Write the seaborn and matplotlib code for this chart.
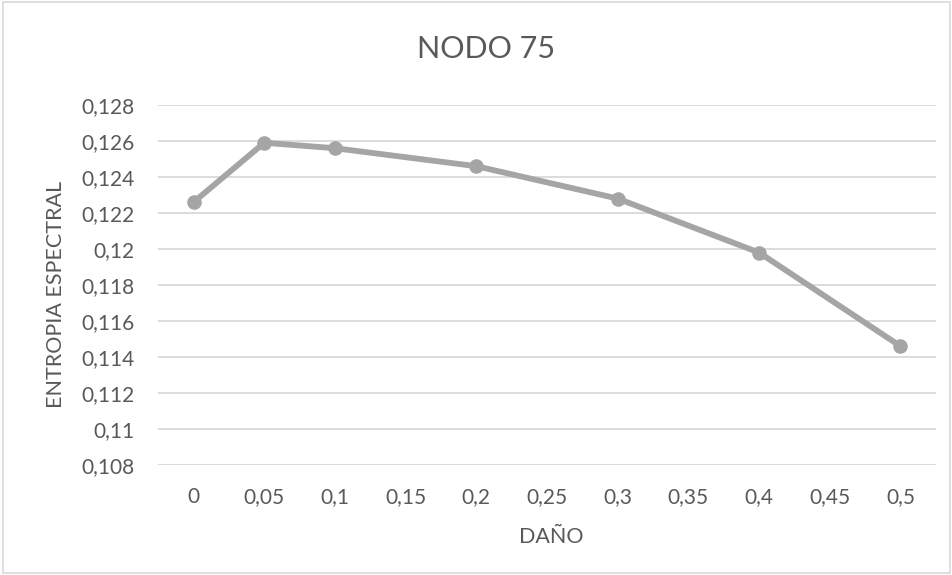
import matplotlib
matplotlib.use("Agg")
import matplotlib.pyplot as plt
import seaborn as sns
import pandas as pd
from matplotlib.patches import Rectangle

dano = [0, 0.05, 0.1, 0.2, 0.3, 0.4, 0.5]
entropia = [0.1226, 0.1259, 0.1256, 0.1246, 0.1228, 0.1198, 0.1146]
x_ticks = [0, 0.05, 0.1, 0.15, 0.2, 0.25, 0.3, 0.35, 0.4, 0.45, 0.5]
y_ticks = [0.108, 0.11, 0.112, 0.114, 0.116, 0.118, 0.12, 0.122, 0.124, 0.126, 0.128]

def fmt(v):
    s = f"{v:.3f}".rstrip("0").rstrip(".")
    return s.replace(".", ",")

sns.set_theme(style="white")
plt.rcParams['font.family'] = ['Lato', 'DejaVu Sans']

df = pd.DataFrame({"dano": dano, "entropia": entropia})

fig = plt.figure(figsize=(9.53, 5.75), dpi=100)
ax = fig.add_axes([0.166, 0.1913, 0.816, 0.6261])

for y in y_ticks:
    ax.axhline(y, color="#D9D9D9", lw=1.3, zorder=0)

sns.lineplot(data=df, x="dano", y="entropia", ax=ax, color="#A5A5A5",
             lw=4.2, marker="o", markersize=10.5, markeredgewidth=0,
             markerfacecolor="#A5A5A5", zorder=3)

ax.set_xlim(-0.025, 0.525)
ax.set_ylim(0.108, 0.128)
ax.set_xticks(x_ticks)
ax.set_xticklabels([fmt(v) for v in x_ticks])
ax.set_yticks(y_ticks)
ax.set_yticklabels([fmt(v) for v in y_ticks])
ax.tick_params(axis="both", length=0, labelsize=15, colors="#595959")
ax.tick_params(axis="x", pad=16)
ax.tick_params(axis="y", pad=17)
for s in ax.spines.values():
    s.set_visible(False)
ax.grid(False)

ax.set_xlabel("DAÑO", fontsize=15.5, color="#595959")
ax.xaxis.label.set_va("center")
ax.xaxis.set_label_coords(0.505, -0.2)
ax.set_ylabel("ENTROPIA ESPECTRAL", fontsize=15.5, color="#595959")
ax.yaxis.label.set_va("center")
ax.yaxis.set_label_coords(-0.131, 0.474)

fig.text(486 / 953, 1 - 49.5 / 575, "NODO 75", fontsize=22,
         color="#595959", ha="center", va="center")

fig.patches.append(Rectangle((0.003, 0.003), 0.994, 0.994, transform=fig.transFigure,
                             fill=False, edgecolor="#D9D9D9", lw=1.2))

fig.savefig("out.png", dpi=100)
